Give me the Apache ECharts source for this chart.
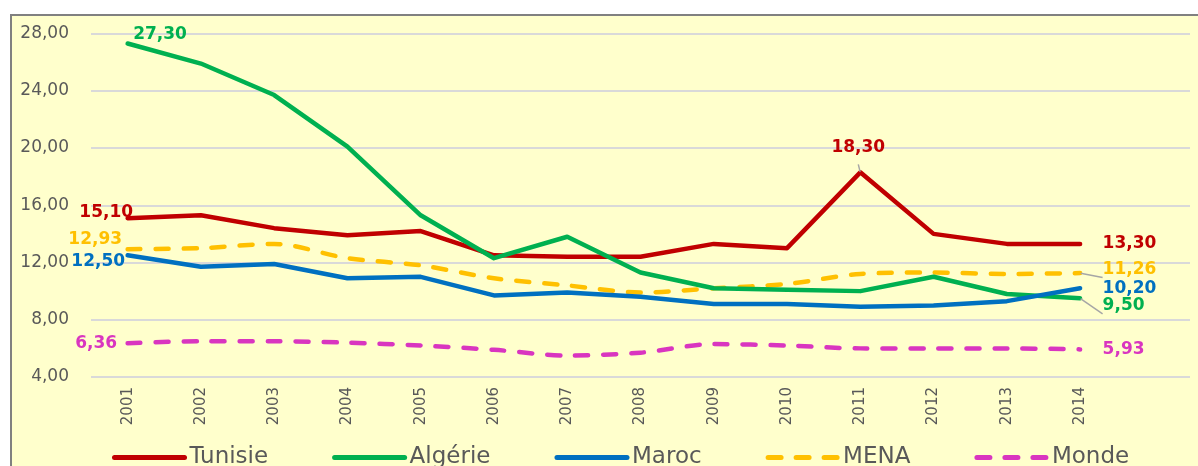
<!DOCTYPE html>
<html>
<head>
<meta charset="utf-8">
<script src="https://cdn.jsdelivr.net/npm/echarts@6/dist/echarts.min.js"></script>
<style>
html,body{margin:0;padding:0;background:#fff;}
#c{width:1198px;height:466px;}
</style>
</head>
<body>
<div id="c"></div>
<script>
const years = ['2001','2002','2003','2004','2005','2006','2007','2008','2009','2010','2011','2012','2013','2014'];
const tunisie = [15.10,15.3,14.4,13.9,14.2,12.5,12.4,12.4,13.3,13.0,18.30,14.0,13.3,13.30];
const algerie = [27.30,25.9,23.7,20.1,15.3,12.3,13.8,11.3,10.2,10.1,10.0,11.0,9.8,9.50];
const maroc   = [12.50,11.7,11.9,10.9,11.0,9.7,9.9,9.6,9.1,9.1,8.9,9.0,9.3,10.20];
const mena    = [12.93,13.0,13.3,12.3,11.8,10.9,10.4,9.9,10.2,10.5,11.2,11.3,11.2,11.26];
const monde   = [6.36,6.5,6.5,6.4,6.2,5.9,5.5,5.7,6.3,6.2,6.0,6.0,6.0,5.93];
const yTicks = [4,8,12,16,20,24,28];

const FONT = 'DejaVu Sans';
const fmt = v => v.toFixed(2).replace('.', ',');

function build(values, color, labelCfg) {
  return values.map((v, i) => {
    const cfg = labelCfg[i];
    if (!cfg) return v;
    const item = {
      value: v,
      symbol: 'circle', symbolSize: 1,
      label: Object.assign({
        show: true, color: color, fontFamily: FONT, fontWeight: 'bold', fontSize: 17,
        formatter: p => fmt(p.value)
      }, cfg.label)
    };
    if (cfg.line) item.labelLine = {show: true, lineStyle: {color: '#A6A6A6', width: 1.5}};
    return item;
  });
}

function lineSeries(name, values, color, dashed, labelCfg) {
  return {
    name: name, type: 'line', data: build(values, color, labelCfg),
    symbol: 'none', showSymbol: true,
    itemStyle: {color: color},
    smooth: dashed ? 0.3 : false,
    lineStyle: {color: color, width: 4.5, type: dashed ? [13, 15] : 'solid', cap: 'round', join: 'round'},
    emphasis: {disabled: true},
    silent: true, animation: false, z: dashed ? 2 : 3
  };
}

const chart = echarts.init(document.getElementById('c'), null, {renderer: 'canvas'});
chart.setOption({
  backgroundColor: '#fff',
  animation: false,
  graphic: [{
    type: 'rect', left: 10, top: 14, z: -10,
    shape: {width: 1200, height: 470},
    style: {fill: '#FFFFCC', stroke: '#808080', lineWidth: 2}
  }],
  grid: {left: 91, right: 8, top: 33.5, bottom: 89},
  xAxis: {
    type: 'category', data: years, boundaryGap: true, max: 14,
    axisLine: {show: false}, axisTick: {show: false},
    axisLabel: {
      rotate: 90, margin: 10, color: '#595959', fontFamily: FONT, fontSize: 15,
      formatter: v => (v == null || v === 'undefined') ? '' : v
    }
  },
  yAxis: {
    type: 'value', min: yTicks[0], max: yTicks[yTicks.length - 1], interval: 4,
    axisLine: {show: false}, axisTick: {show: false},
    splitLine: {lineStyle: {color: '#D9D9D9', width: 2}},
    axisLabel: {color: '#595959', fontFamily: FONT, fontSize: 17, margin: 22, formatter: v => fmt(v)}
  },
  legend: {
    left: 107, top: 441, itemGap: 64, itemWidth: 70, itemHeight: 20,
    lineStyle: {width: 5},
    itemStyle: {opacity: 0},
    textStyle: {color: '#595959', fontFamily: FONT, fontSize: 23},
    data: ['Tunisie', 'Algérie', 'Maroc', 'MENA', 'Monde']
  },
  series: [
    lineSeries('Tunisie', tunisie, '#C00000', false, {
      0: {label: {position: 'left', distance: 0, offset: [6, -6]}},
      10: {label: {position: 'top', distance: 16, offset: [-2, 0]}, line: true},
      13: {label: {position: 'right', distance: 22}}
    }),
    lineSeries('Algérie', algerie, '#00B050', false, {
      0: {label: {position: 'right', distance: 5, offset: [0, -9]}},
      13: {label: {position: 'right', distance: 22, offset: [0, 7]}, line: true}
    }),
    lineSeries('Maroc', maroc, '#0070C0', false, {
      0: {label: {position: 'left', distance: 2, offset: [0, 6]}},
      13: {label: {position: 'right', distance: 22}}
    }),
    lineSeries('MENA', mena, '#FFC000', true, {
      0: {label: {position: 'left', distance: 5, offset: [0, -10]}},
      13: {label: {position: 'right', distance: 22, offset: [0, -4]}, line: true}
    }),
    lineSeries('Monde', monde, '#D935C0', true, {
      0: {label: {position: 'left', distance: 10}},
      13: {label: {position: 'right', distance: 22}}
    })
  ]
});
</script>
</body>
</html>
